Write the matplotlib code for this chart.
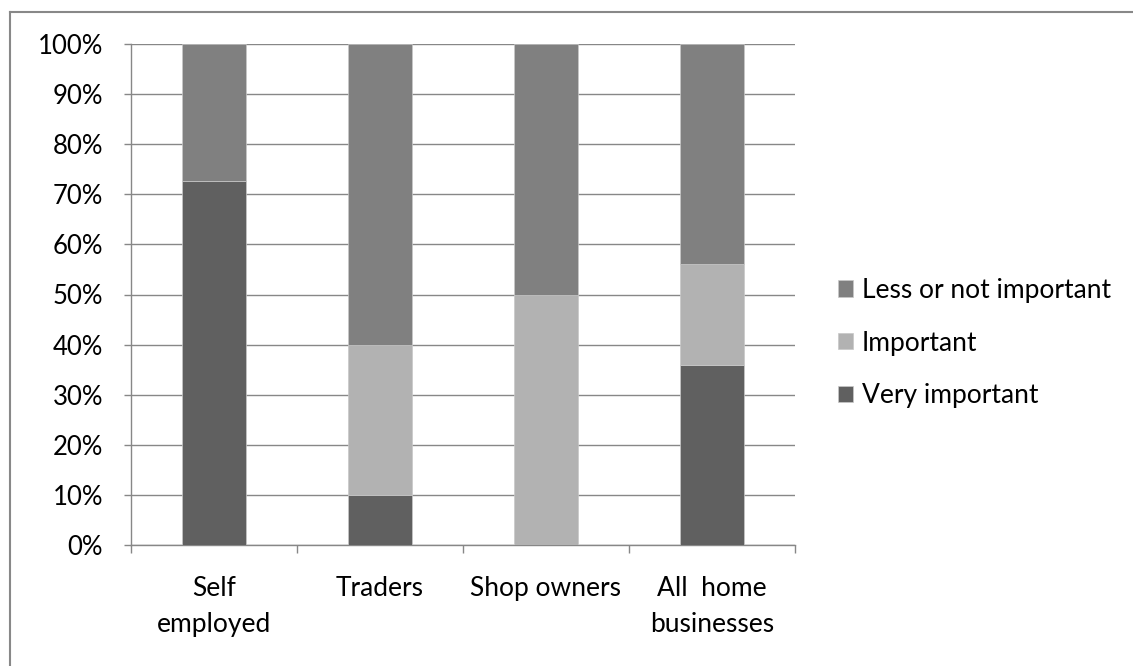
import matplotlib as mpl
import matplotlib.pyplot as plt
from matplotlib.lines import Line2D
from matplotlib.ticker import MultipleLocator, FuncFormatter

# Data (percent of respondents)
categories = ['Self\nemployed', 'Traders', 'Shop owners', 'All  home\nbusinesses']
very_important = [72.7, 10.0, 0.0, 36.0]
important = [0.0, 30.0, 50.0, 20.0]
less_important = [27.3, 60.0, 50.0, 44.0]

series_names = ['Very important', 'Important', 'Less or not important']
series_colors = ['#606060', '#b2b2b2', '#808080']

def main():
	plt.rcParams['font.family'] = ['Lato', 'DejaVu Sans']
	mpl.rcParams['text.antialiased'] = True
	grid_color = '#878787'
	font_size = 19

	fig = plt.figure(figsize=(11.33, 6.66), dpi=100)
	ax = fig.add_axes([131 / 1133, 1 - 545 / 666, 664 / 1133, 501 / 666])

	xs = list(range(len(categories)))
	bottoms = [0.0] * len(categories)
	handles = []
	for values, name, color in zip([very_important, important, less_important], series_names, series_colors):
		bars = ax.bar(xs, values, width=0.39, bottom=bottoms, color=color, edgecolor='#c8c8c8',
			linewidth=0.5, label=name, zorder=3)
		handles.append(bars)
		bottoms = [b + v for b, v in zip(bottoms, values)]

	ax.set_xlim(-0.5, len(categories) - 0.5)
	ax.set_ylim(0, 100)
	ax.yaxis.set_major_locator(MultipleLocator(10))
	ax.yaxis.set_major_formatter(FuncFormatter(lambda v, p: '{:d}%'.format(int(round(v)))))
	ax.yaxis.grid(True, color=grid_color, linewidth=1.0, zorder=0)
	ax.set_axisbelow(True)

	ax.set_xticks(xs)
	ax.set_xticklabels(categories, fontsize=font_size, linespacing=1.57)
	ax.set_xticks([x - 0.5 for x in range(len(categories) + 1)], minor=True)
	ax.tick_params(axis='x', which='major', length=0, pad=22)
	ax.tick_params(axis='x', which='minor', length=6, width=1, color=grid_color)
	ax.tick_params(axis='y', length=5, width=1, color=grid_color, pad=15, labelsize=18.5)

	for side in ['top', 'right']:
		ax.spines[side].set_visible(False)
	for side in ['left', 'bottom']:
		ax.spines[side].set_color(grid_color)
		ax.spines[side].set_linewidth(1.0)

	# legend, reversed like the original
	fig.legend(handles[::-1], series_names[::-1], loc='center left', bbox_to_anchor=(814 / 1133, 1 - 343 / 666),
		frameon=False, fontsize=font_size, handlelength=0.57, handleheight=0.57, handletextpad=0.34, labelspacing=1.05)

	# outer chart border (only top and left edges show in the original crop)
	fig.add_artist(Line2D([10 / 1133, 10 / 1133], [0, 1 - 12 / 666], transform=fig.transFigure, color='#888888', linewidth=1.5))
	fig.add_artist(Line2D([10 / 1133, 1], [1 - 12 / 666, 1 - 12 / 666], transform=fig.transFigure, color='#888888', linewidth=1.5))

	plt.savefig('out.png', dpi=100)
	plt.close()

if __name__ == '__main__':
	main()
